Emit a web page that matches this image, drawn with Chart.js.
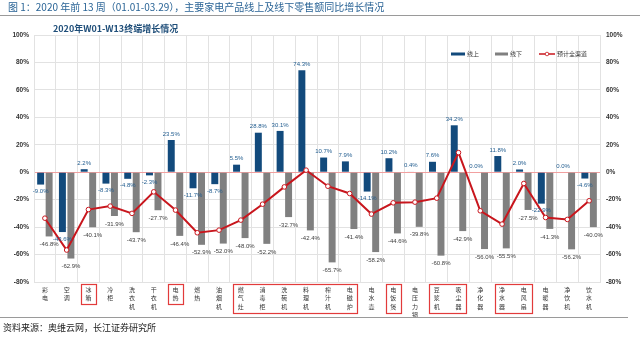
<!DOCTYPE html>
<html><head><meta charset="utf-8">
<script src="https://cdn.jsdelivr.net/npm/chart.js@4/dist/chart.umd.min.js"></script>
<style>
html,body{margin:0;padding:0;background:#fff;width:640px;height:337px;overflow:hidden;}
#wrap{position:absolute;left:0;top:0;width:640px;height:337px;}
.t{position:absolute;font-family:"Noto Sans CJK SC","Noto Sans",sans-serif;white-space:nowrap;}
</style></head><body>
<div id="wrap"><canvas id="c" width="640" height="337"></canvas></div>
<div class="t" style="left:8px;top:0px;font-size:10px;line-height:14px;color:#2a6496">图 1：2020 年前 13 周（01.01-03.29），主要家电产品线上及线下零售额同比增长情况</div>
<div style="position:absolute;left:0;top:15px;width:640px;height:1px;background:#9a9a9a"></div>
<div class="t" style="left:53px;top:23px;font-size:9px;line-height:12px;font-weight:bold;color:#1f4e79">2020年W01-W13终端增长情况</div>
<div style="position:absolute;left:0;top:317px;width:628px;height:1px;background:#9a9a9a"></div>
<div class="t" style="left:3px;top:322px;font-size:9px;line-height:12px;color:#222">资料来源：奥维云网，长江证券研究所</div>
<script>
const categories = ["彩电","空调","冰箱","冷柜","洗衣机","干衣机","电热","燃热","油烟机","燃气灶","消毒柜","洗碗机","料理机","榨汁机","电磁炉","电水壶","电饭煲","电压力锅","豆浆机","吸尘器","净化器","净水器","电风扇","电暖器","净饮机","饮水机"];
const onlineValues = [-9.0,-43.6,2.2,-8.3,-4.8,-2.3,23.5,-11.7,-8.7,5.5,28.8,30.1,74.3,10.7,7.9,-14.1,10.2,0.4,7.6,34.2,0.0,11.8,2.0,-22.9,0.0,-4.6];
const offlineValues = [-46.8,-62.9,-40.1,-31.9,-43.7,-27.7,-46.4,-52.9,-52.0,-48.0,-52.2,-32.7,-42.4,-65.7,-41.4,-58.2,-44.6,-39.8,-60.8,-42.9,-56.0,-55.5,-27.5,-41.3,-56.2,-40.0];
const totalValues = [-33.5,-56.7,-27.2,-24.7,-30.0,-14.3,-27.6,-44.1,-42.2,-34.9,-23.3,-10.7,1.5,-10.2,-15.5,-30.5,-22.3,-21.8,-18.9,14.3,-28.1,-37.8,-8.2,-33.0,-34.4,-20.8];
const seriesNames = ["线上","线下","预计全渠道"];
const yMin = -80, yMax = 100, yStep = 20;
const highlightGroups = [[2,2],[6,6],[9,14],[16,16],[18,19],[21,22]];

const BLUE = '#124a7c', GREY = '#808080', RED = '#c8161d';
const CJK = '"Noto Sans CJK SC","Noto Sans",sans-serif';
const LAT = '"Liberation Sans",Arial,sans-serif';

const fmt = v => v.toFixed(1) + '%';

const decor = {
  id: 'decor',
  afterDatasetsDraw(chart) {
    const ctx = chart.ctx;
    ctx.save();
    ctx.font = '6px ' + LAT;
    ctx.textAlign = 'center';
    ctx.textBaseline = 'middle';
    const m0 = chart.getDatasetMeta(0), m1 = chart.getDatasetMeta(1);
    m0.data.forEach((el, i) => {
      const v = onlineValues[i];
      ctx.fillStyle = '#1f5b8e';
      const y = v >= 0 ? el.y - 6 : el.y + 7;
      ctx.fillText(fmt(v), el.x, y);
    });
    m1.data.forEach((el, i) => {
      const v = offlineValues[i];
      ctx.fillStyle = '#404040';
      ctx.fillText(fmt(v), el.x, el.y + 8);
    });
    ctx.restore();
  },
  afterDraw(chart) {
    const ctx = chart.ctx;
    const xs = chart.scales.x;
    const ca = chart.chartArea;
    ctx.save();
    // highlight boxes
    ctx.strokeStyle = '#e23b3b';
    ctx.lineWidth = 1.2;
    highlightGroups.forEach(g => {
      let n = 0;
      for (let k = g[0]; k <= g[1]; k++) n = Math.max(n, categories[k].length);
      const x1 = xs.getPixelForValue(g[0]) - 7.5;
      const x2 = xs.getPixelForValue(g[1]) + 7.5;
      const top = ca.bottom + 2;
      const h = n * 8.5 + 3;
      ctx.strokeRect(Math.round(x1) + 0.5, Math.round(top) + 0.5, Math.round(x2 - x1), Math.round(h));
    });
    // legend
    const ly = 54;
    ctx.font = '6px ' + CJK;
    ctx.textBaseline = 'middle';
    ctx.textAlign = 'left';
    ctx.fillStyle = BLUE; ctx.fillRect(451, ly - 1.5, 14, 3);
    ctx.fillStyle = '#333'; ctx.fillText(seriesNames[0], 467, ly);
    ctx.fillStyle = GREY; ctx.fillRect(495, ly - 1.5, 13, 3);
    ctx.fillStyle = '#333'; ctx.fillText(seriesNames[1], 510, ly);
    ctx.strokeStyle = RED; ctx.lineWidth = 1.5;
    ctx.beginPath(); ctx.moveTo(539, ly); ctx.lineTo(555, ly); ctx.stroke();
    ctx.fillStyle = '#fff'; ctx.lineWidth = 0.8;
    ctx.beginPath(); ctx.arc(547, ly, 1.8, 0, Math.PI * 2); ctx.fill(); ctx.stroke();
    ctx.fillStyle = '#333'; ctx.fillText(seriesNames[2], 557, ly);
    ctx.restore();
  }
};

new Chart(document.getElementById('c'), {
  type: 'bar',
  data: {
    labels: categories.map(c => c.split('')),
    datasets: [
      { label: seriesNames[0], data: onlineValues, backgroundColor: BLUE, order: 1, categoryPercentage: 0.78, barPercentage: 0.82 },
      { label: seriesNames[1], data: offlineValues, backgroundColor: GREY, order: 1, categoryPercentage: 0.78, barPercentage: 0.82 },
      { type: 'line', label: seriesNames[2], data: totalValues, borderColor: RED, borderWidth: 2,
        pointRadius: 2.3, pointBackgroundColor: '#fff', pointBorderColor: RED, pointBorderWidth: 1,
        tension: 0, order: 0 }
    ]
  },
  options: {
    responsive: false,
    animation: false,
    devicePixelRatio: 1,
    layout: { padding: { top: 35, left: 0, right: 0, bottom: 0 } },
    plugins: { legend: { display: false }, tooltip: { enabled: false }, title: { display: false } },
    scales: {
      x: {
        grid: { color: '#e2e2e2', drawTicks: false, offset: true },
        border: { display: true, color: '#e2e2e2' },
        ticks: { autoSkip: false, maxRotation: 0, minRotation: 0, padding: 3, color: '#333',
                 font: { size: 6, family: CJK, lineHeight: 1.42 } },
        afterFit: s => { s.height = 55; }
      },
      y: {
        min: yMin, max: yMax,
        grid: { color: c => (c.tick && c.tick.value === 0) ? '#f2a0a0' : '#e2e2e2', drawTicks: false },
        border: { display: true, color: '#e2e2e2' },
        ticks: { stepSize: yStep, callback: v => v + '%', padding: 5, color: '#333',
                 font: { size: 6.5, weight: 'bold', family: LAT } },
        afterFit: s => { s.width = 34; }
      },
      y2: {
        position: 'right', display: true,
        min: yMin, max: yMax,
        grid: { drawOnChartArea: false, drawTicks: false },
        border: { display: true, color: '#e2e2e2' },
        ticks: { stepSize: yStep, callback: v => v + '%', padding: 6, color: '#333',
                 font: { size: 6.5, weight: 'bold', family: LAT } },
        afterFit: s => { s.width = 40; }
      }
    }
  },
  plugins: [decor]
});
</script>
</body></html>
